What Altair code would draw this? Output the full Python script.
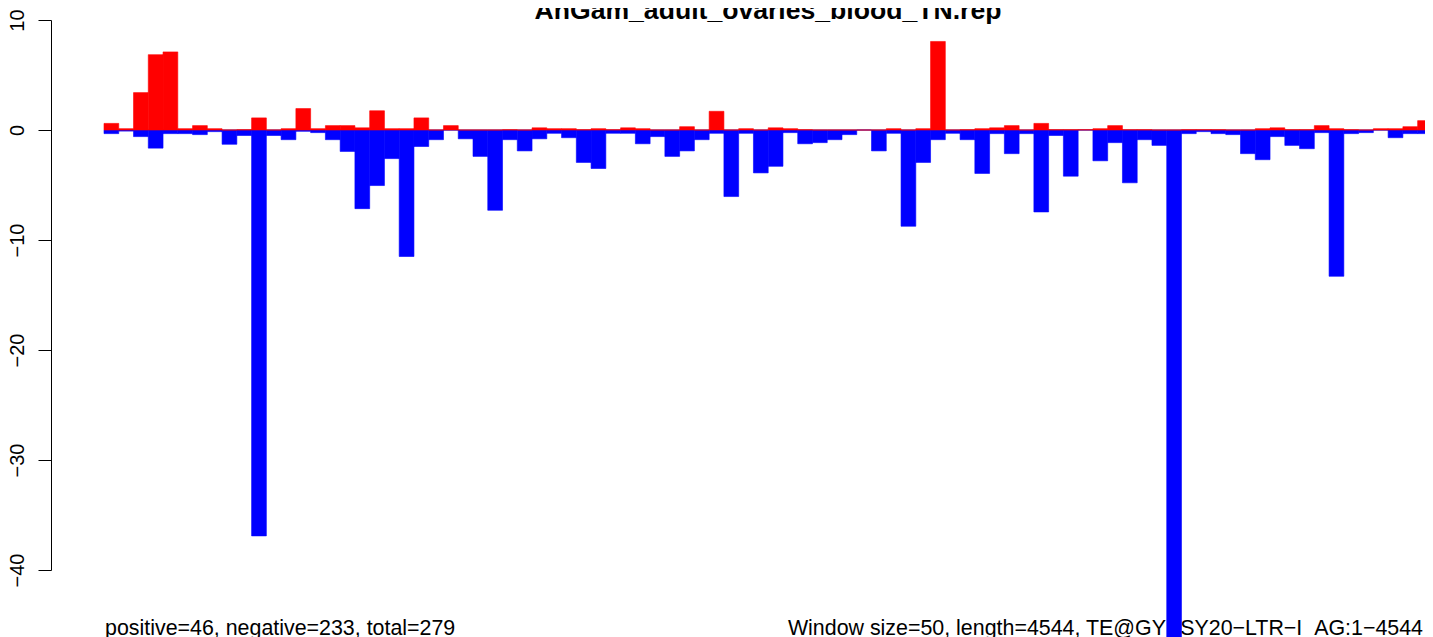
import altair as alt
import pandas as pd

# Values per 50-bp window
positive = [0.6, 0.12, 3.4, 6.85, 7.1, 0.12, 0.4, 0.12, 0, 0.03,
            1.1, 0, 0.12, 1.95, 0.12, 0.4, 0.4, 0.2, 1.75, 0.12,
            0.12, 1.1, 0, 0.4, 0, 0, 0, 0.03, 0, 0.2,
            0.12, 0.12, 0.03, 0.12, 0.03, 0.2, 0.12, 0, 0, 0.3,
            0, 1.7, 0, 0.12, 0, 0.2, 0.12, 0.03, 0, 0,
            0, 0, 0, 0.12, 0, 0.12, 8.05, 0, 0.03, 0.12,
            0.2, 0.4, 0, 0.6, 0.03, 0.03, 0.03, 0.12, 0.4, 0.03,
            0.03, 0, 0, 0.03, 0.03, 0.03, 0, 0, 0.12, 0.2,
            0.03, 0.03, 0.4, 0.12, 0.03, 0, 0.12, 0.12, 0.3, 0.85]
negative = [-0.33, -0.1, -0.6, -1.65, -0.33, -0.33, -0.42, -0.15, -1.3, -0.5,
            -36.9, -0.5, -0.88, -0.12, -0.24, -0.88, -1.95, -7.15, -5.05, -2.6,
            -11.5, -1.5, -0.88, 0, -0.8, -2.4, -7.3, -0.88, -1.9, -0.8,
            -0.3, -0.7, -2.95, -3.5, -0.3, -0.3, -1.25, -0.6, -2.4, -1.9,
            -0.88, -0.3, -6.05, -0.3, -3.9, -3.3, -0.24, -1.25, -1.15, -0.88,
            -0.42, 0, -1.9, -0.3, -8.75, -2.95, -0.88, -0.3, -0.88, -3.95,
            -0.33, -2.15, -0.33, -7.45, -0.5, -4.2, 0, -2.8, -1.15, -4.8,
            -0.88, -1.4, -48, -0.33, -0.15, -0.33, -0.42, -2.15, -2.7, -0.6,
            -1.4, -1.7, -0.24, -13.3, -0.33, -0.24, 0, -0.7, -0.33, -0.33]
y_ticks = [-40, -30, -20, -10, 0, 10]

title_text = "AnGam_adult_ovaries_blood_TN.rep"
left_note = "positive=46, negative=233, total=279"
right_note = "Window size=50, length=4544, TE@GYPSY20\u2212LTR\u2212I_AG:1\u22124544"

n = len(positive)
df = pd.DataFrame({
    "start": list(range(n)),
    "end": [i + 1 for i in range(n)],
    "pos": positive,
    "neg": negative,
    "zero": [0] * n,
})

W = 1328.4
H = 550
FONT = "Liberation Sans"

xs = alt.Scale(domain=[0, n], nice=False, zero=False)
ys = alt.Scale(domain=[-40, 10], nice=False, zero=False)
yaxis = alt.Axis(
    values=y_ticks, title=None, offset=53, tickSize=13, labelAngle=270,
    labelAlign="center", labelBaseline="alphabetic", labelPadding=15,
    labelFont=FONT, labelFontSize=20, labelColor="black",
    domainColor="black", tickColor="black", domainWidth=1, tickWidth=1,
    grid=False, labelFlush=False, labelOverlap=False)

base = alt.Chart(df)

zero_line = alt.Chart(pd.DataFrame({"v": [0]})).mark_rule(color="#AAAAAA", strokeWidth=1).encode(
    y=alt.Y("v:Q", scale=ys, axis=yaxis), x=alt.value(0), x2=alt.value(W)
)

left_txt = alt.Chart(pd.DataFrame({"t": [left_note]})).mark_text(
    font=FONT, fontSize=21.4, align="left", baseline="alphabetic", color="black"
).encode(text="t:N", x=alt.value(1), y=alt.value(615))

right_txt = alt.Chart(pd.DataFrame({"t": [right_note]})).mark_text(
    font=FONT, fontSize=21.4, align="right", baseline="alphabetic", color="black"
).encode(text="t:N", x=alt.value(1319), y=alt.value(615))

title_txt = alt.Chart(pd.DataFrame({"t": [title_text]})).mark_text(
    font=FONT, fontSize=26.6, fontWeight="bold", align="center", baseline="alphabetic", color="black"
).encode(text="t:N", x=alt.value(664), y=alt.value(-1))

blue = base.mark_rect(color="#0000FF", stroke="#0000FF", strokeWidth=0.6, clip=False).encode(
    x=alt.X("start:Q", scale=xs, axis=None),
    x2="end:Q",
    y=alt.Y("neg:Q", scale=ys, axis=yaxis),
    y2="zero:Q",
)
red = base.mark_rect(color="#FF0000", stroke="#FF0000", strokeWidth=0.6, clip=False).encode(
    x=alt.X("start:Q", scale=xs, axis=None),
    x2="end:Q",
    y=alt.Y("pos:Q", scale=ys, axis=yaxis),
    y2="zero:Q",
)

chart = alt.layer(zero_line, left_txt, right_txt, title_txt, blue, red).properties(
    width=W, height=H,
    autosize=alt.AutoSizeParams(type="none"),
    padding={"left": 96, "top": 12, "right": -7.4, "bottom": 67},
    background="white",
).configure_view(stroke=None)

chart.save("out.html", embed_options={"renderer": "svg", "actions": False})
